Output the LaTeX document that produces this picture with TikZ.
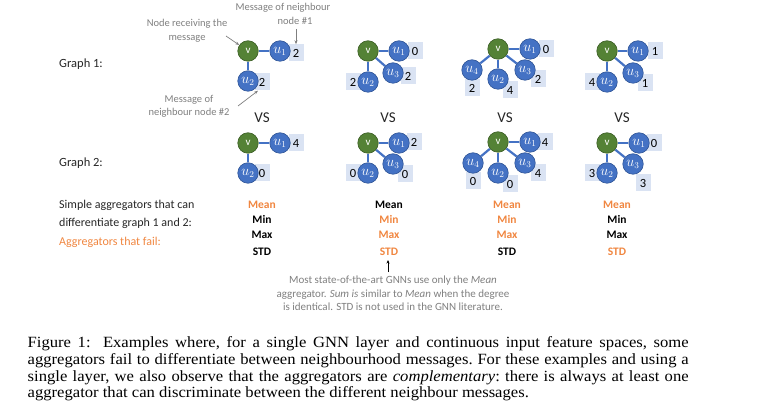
\documentclass[tikz,border=0pt]{standalone}
\usepackage{fontspec}
\setmainfont{Liberation Serif}
\newfontfamily\calibri{Carlito}
\newfontfamily\capfont[FakeStretch=1.065]{Liberation Serif}
\usetikzlibrary{arrows.meta,backgrounds}
\definecolor{nodeblue}{HTML}{4472C4}
\definecolor{nodeborder}{HTML}{2F5597}
\definecolor{vgreen}{HTML}{548235}
\definecolor{vborder}{HTML}{3B5E25}
\definecolor{boxblue}{HTML}{DAE3F3}
\definecolor{aggorange}{HTML}{F08640}
\definecolor{annogrey}{HTML}{7F7F7F}
\definecolor{textdark}{HTML}{262626}
\begin{document}
\begin{tikzpicture}[x=1pt,y=-1pt,
  unode/.style={circle, fill=nodeblue, draw=nodeborder, line width=0.6pt, minimum size=20.5pt, inner sep=0pt, text=white, font=\fontsize{13.5}{13.5}\selectfont},
  vnode/.style={circle, fill=vgreen, draw=vborder, line width=0.6pt, minimum size=20.5pt, inner sep=0pt, text=white, font=\calibri\fontsize{11}{11}\selectfont},
  msg/.style={fill=boxblue, minimum width=15pt, minimum height=17pt, inner sep=0pt, text=black, font=\calibri\fontsize{12.5}{12.5}\selectfont},
  edge/.style={draw=nodeblue, line width=2.2pt},
  anno/.style={font=\calibri\fontsize{10.5}{13.5}\selectfont, text=annogrey, inner sep=0pt, align=center},
  annoarrow/.style={draw=annogrey, line width=0.7pt, -{Stealth[length=4pt,width=3pt]}},
  glabel/.style={font=\calibri\fontsize{12.5}{14}\selectfont, text=textdark, inner sep=0pt, anchor=base west},
  vs/.style={font=\calibri\fontsize{15}{15}\selectfont, text=textdark, inner sep=0pt, anchor=base},
  agg/.style={font=\calibri\bfseries\fontsize{11.5}{12}\selectfont, inner sep=0pt, anchor=base, text=black},
  fail/.style={text=aggorange},
]
\useasboundingbox (0,0) rectangle (759,419);

% ---------- Graph 1 ----------
\node[vnode] (a1v) at (248,51) {v};
\node[unode] (a1u1) at (280,51) {$u_1$};
\node[unode] (a1u2) at (248,81) {$u_2$};
\node[vnode] (a2v) at (368,51) {v};
\node[unode] (a2u1) at (399,51) {$u_1$};
\node[unode] (a2u3) at (393,73) {$u_3$};
\node[unode] (a2u2) at (368,82) {$u_2$};
\node[vnode] (a3v) at (498,49) {v};
\node[unode] (a3u1) at (530,49) {$u_1$};
\node[unode] (a3u3) at (525,70) {$u_3$};
\node[unode] (a3u2) at (498,79) {$u_2$};
\node[unode] (a3u4) at (472,70) {$u_4$};
\node[vnode] (a4v) at (607,51) {v};
\node[unode] (a4u1) at (638,51) {$u_1$};
\node[unode] (a4u3) at (633,73) {$u_3$};
\node[unode] (a4u2) at (607,82) {$u_2$};

% ---------- Graph 2 ----------
\node[vnode] (b1v) at (248,143) {v};
\node[unode] (b1u1) at (280,143) {$u_1$};
\node[unode] (b1u2) at (248,173) {$u_2$};
\node[vnode] (b2v) at (368,143) {v};
\node[unode] (b2u1) at (399,143) {$u_1$};
\node[unode] (b2u3) at (393,164) {$u_3$};
\node[unode] (b2u2) at (368,173) {$u_2$};
\node[vnode] (b3v) at (498,142) {v};
\node[unode] (b3u1) at (530,142) {$u_1$};
\node[unode] (b3u3) at (525,163) {$u_3$};
\node[unode] (b3u2) at (498,173) {$u_2$};
\node[unode] (b3u4) at (473,163) {$u_4$};
\node[vnode] (b4v) at (607,143) {v};
\node[unode] (b4u1) at (639,143) {$u_1$};
\node[unode] (b4u3) at (633,164) {$u_3$};
\node[unode] (b4u2) at (607,173) {$u_2$};

\begin{scope}[on background layer]
  \node[msg] (a1m1) at (296,53) {2};
  \node[msg] (a1m2) at (262,82) {2};
  \node[msg] (a2m1) at (415,51) {0};
  \node[msg] (a2m3) at (408,76) {2};
  \node[msg] (a2m2) at (353,82) {2};
  \node[msg] (a3m1) at (546,49) {0};
  \node[msg] (a3m3) at (538,79) {2};
  \node[msg] (a3m2) at (510,90) {4};
  \node[msg] (a3m4) at (472,88) {2};
  \node[msg] (a4m1) at (655,51) {1};
  \node[msg] (a4m3) at (645,83) {1};
  \node[msg] (a4m2) at (592,82) {4};
  \node[msg] (b1m1) at (296,143) {4};
  \node[msg] (b1m2) at (262,173) {0};
  \node[msg] (b2m1) at (414,142) {2};
  \node[msg] (b2m3) at (405,174) {0};
  \node[msg] (b2m2) at (353,173) {0};
  \node[msg] (b3m1) at (545,142) {4};
  \node[msg] (b3m3) at (538,173) {4};
  \node[msg] (b3m2) at (510,184) {0};
  \node[msg] (b3m4) at (473,181) {0};
  \node[msg] (b4m1) at (654,143) {0};
  \node[msg] (b4m3) at (643,183) {3};
  \node[msg] (b4m2) at (592,173) {3};
  \draw[edge] (a1v) -- (a1u1); \draw[edge] (a1v) -- (a1u2);
  \draw[edge] (a2v) -- (a2u1); \draw[edge] (a2v) -- (a2u3); \draw[edge] (a2v) -- (a2u2);
  \draw[edge] (a3v) -- (a3u1); \draw[edge] (a3v) -- (a3u3); \draw[edge] (a3v) -- (a3u2); \draw[edge] (a3v) -- (a3u4);
  \draw[edge] (a4v) -- (a4u1); \draw[edge] (a4v) -- (a4u3); \draw[edge] (a4v) -- (a4u2);
  \draw[edge] (b1v) -- (b1u1); \draw[edge] (b1v) -- (b1u2);
  \draw[edge] (b2v) -- (b2u1); \draw[edge] (b2v) -- (b2u3); \draw[edge] (b2v) -- (b2u2);
  \draw[edge] (b3v) -- (b3u1); \draw[edge] (b3v) -- (b3u3); \draw[edge] (b3v) -- (b3u2); \draw[edge] (b3v) -- (b3u4);
  \draw[edge] (b4v) -- (b4u1); \draw[edge] (b4v) -- (b4u3); \draw[edge] (b4v) -- (b4u2);
\end{scope}

% ---------- annotations ----------
\node[anno] (recv) at (187,31) {Node receiving the\\message};
\node[anno] (nb1a) at (283,8) {Message of neighbour};
\node[anno] (nb1b) at (295,21) {node \#1};
\node[anno] (nb2) at (189,106.5) {Message of\\neighbour node \#2};
\coordinate (recvend) at (226,36);
\coordinate (nb1end) at (296,29);
\coordinate (nb2end) at (238,106);
\draw[annoarrow] (recvend) -- (a1v);
\draw[annoarrow] (nb1end) -- (a1m1.north);
\draw[annoarrow] (nb2end) -- ([xshift=-4pt]a1m2.south);

% ---------- row labels ----------
\node[glabel] (g1) at (59,68) {Graph 1:};
\node[glabel] (g2) at (59,166.5) {Graph 2:};
\node[vs] (vs1) at (262,122.5) {VS};
\node[vs] (vs2) at (388,122.5) {VS};
\node[vs] (vs3) at (505,122.5) {VS};
\node[vs] (vs4) at (622,122.5) {VS};

% ---------- aggregators ----------
\node[glabel, font=\calibri\fontsize{12}{14}\selectfont] (simple1) at (59,209) {Simple aggregators that can};
\node[glabel, font=\calibri\fontsize{12}{14}\selectfont] (simple2) at (59,226.5) {differentiate graph 1 and 2:};
\node[glabel, font=\calibri\fontsize{12}{14}\selectfont, text=aggorange] (failtxt) at (59,245.5) {Aggregators that fail:};

\node[agg, fail] (c1mean) at (262,209) {Mean};
\node[agg] (c1min) at (262,224) {Min};
\node[agg] (c1max) at (262,239) {Max};
\node[agg] (c1std) at (262,255) {STD};

\node[agg] (c2mean) at (389,209) {Mean};
\node[agg, fail] (c2min) at (389,224) {Min};
\node[agg, fail] (c2max) at (389,239) {Max};
\node[agg, fail] (c2std) at (389,255) {STD};

\node[agg, fail] (c3mean) at (507,209) {Mean};
\node[agg, fail] (c3min) at (507,224) {Min};
\node[agg, fail] (c3max) at (507,239) {Max};
\node[agg] (c3std) at (507,255) {STD};

\node[agg, fail] (c4mean) at (617,209) {Mean};
\node[agg] (c4min) at (617,224) {Min};
\node[agg] (c4max) at (617,239) {Max};
\node[agg, fail] (c4std) at (617,255) {STD};

% ---------- note ----------
\node[anno, font=\calibri\fontsize{11}{13.5}\selectfont] (note) at (393,293.5) {Most state-of-the-art GNNs use only the \textit{Mean}\\aggregator. \textit{Sum is} similar to \textit{Mean} when the degree\\is identical. STD is not used in the GNN literature.};
\coordinate (notearrow) at (388,272);
\draw[draw=black, line width=0.6pt, -{Stealth[length=3.5pt,width=3pt]}] (notearrow) -- ++(0,-12) coordinate (notetip);

% ---------- caption ----------
\node[anchor=north west, inner sep=0pt, text width=661pt, align=justify,
      font=\capfont\fontsize{15.6}{16.7}\selectfont] (caption) at (27.5,336.5)
{\frenchspacing Figure 1:\hskip 0.55em plus 0.2em Examples where, for a single GNN layer and continuous input feature spaces, some\linebreak
aggregators fail to differentiate between neighbourhood messages. For these examples and using a\linebreak
single layer, we also observe that the aggregators are \emph{complementary}: there is always at least one\linebreak
aggregator that can discriminate between the different neighbour messages.};
\end{tikzpicture}
\end{document}
